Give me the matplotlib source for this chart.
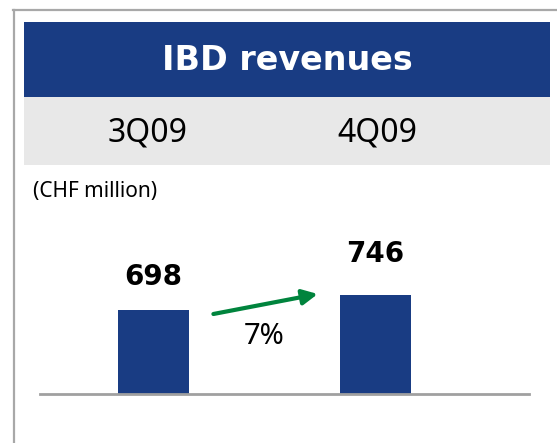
import matplotlib
matplotlib.use("Agg")
import matplotlib.pyplot as plt
from matplotlib.patches import Rectangle
from matplotlib.lines import Line2D

title = "IBD revenues"
quarters = ["3Q09", "4Q09"]
values = [698, 746]
unit = "(CHF million)"

W, H = 557, 443
blue = "#193c83"
green = "#00843d"
plt.rcParams["font.family"] = ["Noto Sans", "DejaVu Sans"]
bold_font = ["DejaVu Sans"]

fig = plt.figure(figsize=(W / 100, H / 100), dpi=100)


def fy(py):
    return 1 - py / H


# frame lines (top and left)
fig.add_artist(Line2D([13 / W, 1], [fy(10), fy(10)], color="#a8a8a8", lw=1.6))
fig.add_artist(Line2D([14 / W, 14 / W], [fy(10), 0], color="#a8a8a8", lw=1.6))

# header band + quarter band
fig.add_artist(Rectangle((24 / W, fy(97)), 526 / W, 75 / H, color=blue, lw=0))
fig.add_artist(Rectangle((24 / W, fy(165)), 526 / W, 68 / H, color="#e8e8e8", lw=0))
fig.text(287 / W, fy(60), title, color="white", fontsize=24, fontweight="bold",
         family=bold_font, ha="center", va="center")
for q, px in zip(quarters, [148, 377]):
    fig.text(px / W, fy(133), q, fontsize=23, ha="center", va="center", color="black")
fig.text(33 / W, fy(192), unit, fontsize=15, ha="left", va="center")

# bar area
ax = fig.add_axes([40 / W, fy(394), 489 / W, 164 / H])
x = list(range(len(values)))
ax.bar(x, values, width=0.32, color=blue, zorder=1)
ax.set_xlim(-0.511, 1.6915)
ax.set_ylim(429, 953.8)
ax.axhline(429, color="#a0a0a0", lw=2, zorder=3, clip_on=False)
ax.axis("off")

label_pad = [106, 131]
for i, v in enumerate(values):
    ax.text(i, v + label_pad[i], str(v), ha="center", va="center",
            fontsize=20, fontweight="bold", family=bold_font)

ax.annotate("", xy=(0.74, values[1] + 3), xytext=(0.27, values[0] - 13),
            arrowprops=dict(arrowstyle="-|>,head_length=0.9,head_width=0.45",
                            color=green, lw=3, shrinkA=0, shrinkB=0))
growth = (values[1] / values[0] - 1) * 100
ax.text(0.5, 614, f"{growth:.0f}%", ha="center", va="center", fontsize=21)

fig.savefig("out.png", dpi=100)
